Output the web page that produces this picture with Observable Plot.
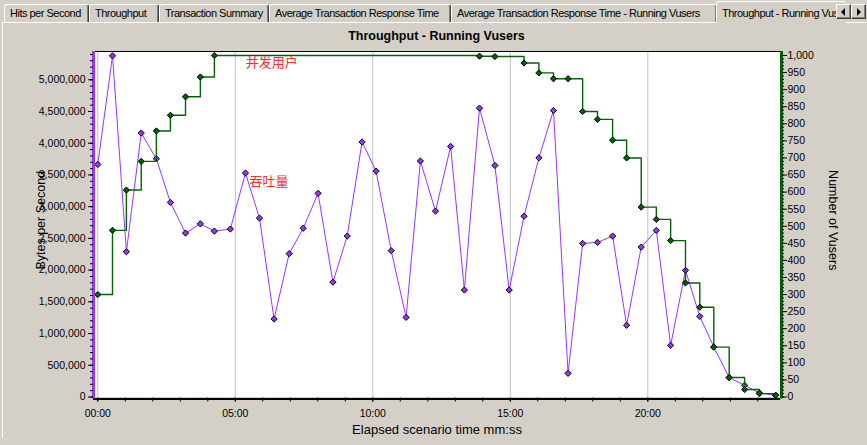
<!DOCTYPE html>
<html><head><meta charset="utf-8">
<script src="https://cdn.jsdelivr.net/npm/d3@7"></script>
<script src="https://cdn.jsdelivr.net/npm/@observablehq/plot@0.6"></script>
<style>
html,body{margin:0;padding:0;background:#d4d0c8;width:867px;height:445px;overflow:hidden;font-family:"Liberation Sans",Arial,sans-serif;}
#wrap{position:relative;width:867px;height:445px;}
#chart{position:absolute;left:0;top:0;}
.tab{position:absolute;top:4px;height:18px;box-sizing:border-box;border-top:1px solid #fff;border-left:1px solid #fff;border-right:1px solid #404040;box-shadow:inset -1px 0 0 #808080;border-radius:3px 3px 0 0;font-size:11px;line-height:17px;padding-left:5px;white-space:nowrap;overflow:hidden;color:#000;letter-spacing:-0.5px;background:#d4d0c8;z-index:1}
.tab.active{top:1px;height:22px;z-index:2;border-right:none;box-shadow:none;line-height:22px}
#panelTop{position:absolute;left:2px;top:22px;width:865px;height:1px;background:#fff;z-index:1}
#panelLeft{position:absolute;left:2px;top:22px;width:1px;height:416px;background:#fff}
.btn{position:absolute;top:4px;width:15px;height:15px;box-sizing:border-box;border-top:1px solid #fff;border-left:1px solid #fff;border-right:1px solid #404040;border-bottom:1px solid #404040;box-shadow:inset -1px -1px 0 #808080;background:#d4d0c8;z-index:3}
.arr{position:absolute;top:3px;width:0;height:0;border-top:4px solid transparent;border-bottom:4px solid transparent}
#title{position:absolute;left:93px;width:687px;top:28px;line-height:16px;text-align:center;font-weight:bold;font-size:12.5px;z-index:2}
</style>
</head>
<body>
<div id="wrap">
  <div id="chart"></div>
  <div id="tabs"></div>
  <div id="panelTop"></div>
  <div id="panelLeft"></div>
  <div id="title"></div>
</div>
<script>
// ---- data ----
const tabLabels = ["Hits per Second", "Throughput", "Transaction Summary", "Average Transaction Response Time", "Average Transaction Response Time - Running Vusers", "Throughput - Running Vusers"];
const chartTitle = "Throughput - Running Vusers";
const xTitle = "Elapsed scenario time mm:ss";
const yLeftTitle = "Bytes per Second";
const yRightTitle = "Number of Vusers";

// elapsed minutes of each throughput sample
const throughputTimes = [0, 0.535, 1.04, 1.58, 2.13, 2.64, 3.19, 3.73, 4.24, 4.82, 5.37, 5.88, 6.41, 6.96, 7.47, 8.01, 8.55, 9.07, 9.61, 10.12, 10.67, 11.21, 11.73, 12.28, 12.83, 13.33, 13.88, 14.44, 14.96, 15.5, 16.04, 16.57, 17.1, 17.63, 18.17, 18.72, 19.23, 19.76, 20.31, 20.83, 21.37, 21.89, 22.4, 22.96, 23.52, 24.06, 24.65];
// bytes per second
const throughputValues = [3666000, 5378000, 2290000, 4160000, 3755000, 3067000, 2584000, 2730000, 2615000, 2647000, 3530000, 2820000, 1229000, 2260000, 2660000, 3210000, 1810000, 2536000, 4020000, 3560000, 2306000, 1255000, 3720000, 2930000, 3950000, 1686000, 4553000, 3650000, 1686000, 2850000, 3770000, 4516000, 373000, 2420000, 2437000, 2536000, 1130000, 2363000, 2626000, 814000, 1996000, 1271000, 788000, 306000, 184000, 63000, 27000];

// running vusers samples (minutes, count)
const vuserTimes = [0, 0.535, 1.04, 1.58, 2.13, 2.64, 3.19, 3.73, 4.24, 13.88, 14.44, 15.5, 16.04, 16.57, 17.1, 17.63, 18.17, 18.72, 19.23, 19.76, 20.31, 20.83, 21.37, 21.89, 22.4, 22.96, 23.52, 24.06, 24.65];
const vuserValues = [300, 488, 606, 690, 779, 825, 879, 937, 1000, 998, 997, 978, 949, 932, 932, 836, 813, 752, 700, 556, 520, 458, 334, 263, 146, 57, 22, 10, 5];

const xMajorTicks = [0, 5, 10, 15, 20];
const xMinorTicks = [0, 1, 2, 3, 4, 5, 6, 7, 8, 9, 10, 11, 12, 13, 14, 15, 16, 17, 18, 19, 20, 21, 22, 23, 24];
const bytesTicks = [0, 500000, 1000000, 1500000, 2000000, 2500000, 3000000, 3500000, 4000000, 4500000, 5000000];
const vuserTicks = [0, 50, 100, 150, 200, 250, 300, 350, 400, 450, 500, 550, 600, 650, 700, 750, 800, 850, 900, 950, 1000];

const annotationLabels = ["并发用户", "吞吐量"];
const annotationTimes = [5.38, 5.52];
const annotationBytes = [5273000, 3397000];

// ---- layout / style ----
const purple = "#9933ff";
const green = "#006400";
const red = "#ff2a2a";
const xDomain = [-0.156, 24.825];
const yDomain = [0, 5446000];
const vuserScale = 5383; // bytes-axis units per vuser (dual axis mapping)

// ---- header (tabs + title) ----
const tabGeom = [[4, 85], [89, 70], [159, 110], [269, 182], [451, 266], [716, 130]];
const tabsDiv = document.getElementById("tabs");
tabLabels.forEach((lab, i) => {
  const d = document.createElement("div");
  d.className = "tab" + (i === tabLabels.length - 1 ? " active" : "");
  d.style.left = tabGeom[i][0] + "px";
  d.style.width = tabGeom[i][1] + "px";
  d.textContent = lab;
  tabsDiv.appendChild(d);
});
[[836, "left"], [851, "right"]].forEach(([x, dir]) => {
  const b = document.createElement("div");
  b.className = "btn";
  b.style.left = x + "px";
  const a = document.createElement("div");
  a.className = "arr";
  if (dir === "left") { a.style.left = "4px"; a.style.borderRight = "4px solid #000"; }
  else { a.style.left = "5px"; a.style.borderLeft = "4px solid #000"; }
  b.appendChild(a);
  tabsDiv.appendChild(b);
});
document.getElementById("title").textContent = chartTitle;

// ---- chart ----
const thr = throughputTimes.map((t, i) => ({t, v: throughputValues[i]}));
const vus = vuserTimes.map((t, i) => ({t, n: vuserValues[i]}));
const ann = annotationLabels.map((label, i) => ({label, t: annotationTimes[i], v: annotationBytes[i]}));
const mmss = d => String(d).padStart(2, "0") + ":00";
const fmt = d3.format(",");

const chart = Plot.plot({
  width: 867,
  height: 445,
  marginTop: 51,
  marginBottom: 48.5,
  marginLeft: 93,
  marginRight: 87,
  x: {domain: xDomain, axis: null},
  y: {domain: yDomain, axis: null},
  style: {background: "transparent", fontFamily: "'Liberation Sans', Arial, sans-serif", fontSize: "10.5px", overflow: "visible", color: "black"},
  marks: [
    Plot.frame({fill: "white", stroke: null}),
    Plot.ruleX(xMajorTicks, {stroke: "#c0c0c0", strokeWidth: 1}),
    Plot.ruleY([yDomain[1]], {stroke: "black", strokeWidth: 1}),
    Plot.line(thr, {x: "t", y: "v", stroke: purple, strokeWidth: 1}),
    Plot.dot(thr, {x: "t", y: "v", symbol: "diamond2", r: 2.8, fill: purple, stroke: "black", strokeWidth: 1}),
    Plot.line(vus, {x: "t", y: d => d.n * vuserScale, curve: "step-after", stroke: green, strokeWidth: 1.4}),
    Plot.dot(vus, {x: "t", y: d => d.n * vuserScale, symbol: "diamond2", r: 2.8, fill: green, stroke: "black", strokeWidth: 1}),
    Plot.text(ann, {x: "t", y: "v", text: "label", textAnchor: "start", fill: red, fontSize: 13, fontFamily: "'Noto Sans CJK SC', sans-serif"}),
    Plot.ruleY([0], {stroke: "black", strokeWidth: 2, dy: 2}),
    Plot.ruleX([xDomain[0]], {stroke: purple, strokeWidth: 3, insetBottom: -2}),
    Plot.ruleX([xDomain[1]], {stroke: green, strokeWidth: 3, dx: 1, insetBottom: -2}),
    // x axis
    Plot.axisX(xMinorTicks, {anchor: "bottom", tickSize: 4, dy: 1, tickFormat: () => "", label: null}),
    Plot.axisX(xMajorTicks, {anchor: "bottom", tickSize: 4, dy: 1, tickPadding: 7.5, tickFormat: mmss, label: null}),
    // left axis
    Plot.axisY(d3.range(0, 5400001, 100000), {anchor: "left", tickSize: 3, tickFormat: () => "", label: null}),
    Plot.axisY(bytesTicks, {anchor: "left", tickSize: 5, tickPadding: 3, tickFormat: fmt, label: null}),
    // right axis (vusers)
    Plot.axisY(d3.range(0, 1001, 10).map(v => v * vuserScale), {anchor: "right", tickSize: 2, dx: 1, tickFormat: () => "", label: null}),
    Plot.axisY(vuserTicks.map(v => v * vuserScale), {anchor: "right", tickSize: 5, dx: 1, tickPadding: 1, tickFormat: d => fmt(Math.round(d / vuserScale)), label: null}),
    // axis titles
    Plot.text([xTitle], {frameAnchor: "bottom", dy: 33, fontSize: 13, lineAnchor: "middle", textAnchor: "middle"}),
    Plot.text([yLeftTitle], {frameAnchor: "left", dx: -53, dy: -4, rotate: -90, fontSize: 12.5, lineAnchor: "middle", textAnchor: "middle"}),
    Plot.text([yRightTitle], {frameAnchor: "right", dx: 52, dy: -4, rotate: 90, fontSize: 12.5, lineAnchor: "middle", textAnchor: "middle"})
  ]
});
document.getElementById("chart").appendChild(chart);
</script>
</body></html>
